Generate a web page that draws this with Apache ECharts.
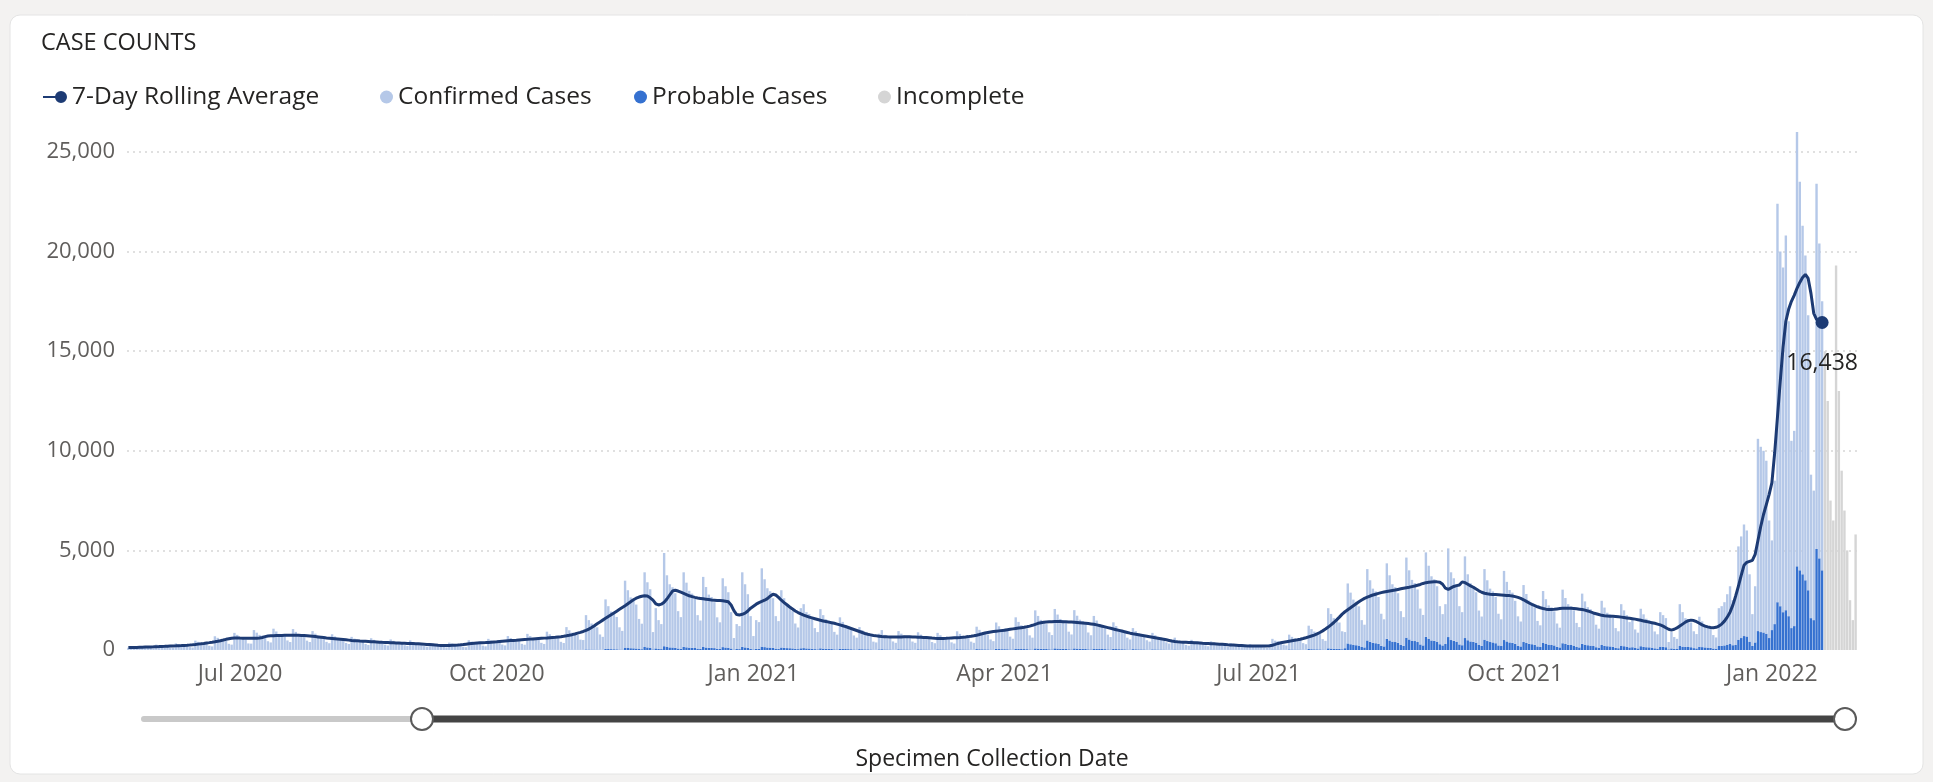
<!DOCTYPE html>
<html>
<head>
<meta charset="utf-8">
<title>Case Counts</title>
<script src="https://cdn.jsdelivr.net/npm/echarts@6/dist/echarts.min.js"></script>
<style>
  html, body { margin: 0; padding: 0; background: #f3f2f1; }
  #chart { width: 1933px; height: 782px; }
</style>
</head>
<body>
<div id="chart"></div>
<script>
// Daily series run from the first to the last specimen collection date.
const FIRST_DAY = '2020-05-22';
const LAST_DAY = '2022-01-31';

// Quarter labels shown along the date axis.
const tickLabels = ['Jul 2020', 'Oct 2020', 'Jan 2021', 'Apr 2021', 'Jul 2021', 'Oct 2021', 'Jan 2022'];

// 7-day rolling average of all cases (one value per complete day).
const avg2020 = [
  /* May */ 120,125,128,130,135,140,145,150,155,160,
  /* Jun */ 168,172,178,183,190,196,202,208,215,222,230,238,248,262,278,295,312,330,350,370,392,415,440,468,500,535,565,590,600,605,
  /* Jul */ 600,596,592,590,590,590,592,600,630,670,700,710,716,722,728,732,736,740,742,742,740,736,730,722,712,700,688,672,656,640,624,
  /* Aug */ 608,594,580,566,552,538,524,510,496,482,470,460,450,442,434,426,418,410,402,394,386,380,374,368,362,356,350,344,338,332,328,
  /* Sep */ 322,316,308,300,292,282,272,260,248,236,226,222,225,230,236,242,250,262,276,292,308,322,336,348,358,366,372,380,390,400,
  /* Oct */ 410,425,440,452,462,472,482,492,504,516,528,536,546,556,566,576,586,596,606,618,630,642,656,670,690,714,740,770,805,845,885,
  /* Nov */ 930,985,1050,1130,1220,1320,1410,1500,1590,1680,1770,1860,1950,2040,2130,2220,2320,2420,2520,2600,2660,2700,2720,2710,2620,2500,2320,2260,2300,2400,
  /* Dec */ 2560,2760,2960,3000,2960,2900,2840,2780,2720,2680,2640,2610,2590,2570,2550,2530,2510,2500,2490,2480,2470,2450,2420,2260,1980,1780,1760,1790,1850,1960,2100
];
const avg2021 = [
  /* Jan */ 2200,2300,2380,2440,2500,2580,2700,2800,2760,2640,2500,2380,2270,2160,2060,1960,1880,1810,1750,1700,1650,1610,1570,1530,1490,1460,1430,1400,1370,1340,1300,
  /* Feb */ 1260,1220,1180,1130,1080,1030,980,930,880,830,790,760,730,710,695,680,668,660,655,652,650,652,656,660,662,660,655,650,
  /* Mar */ 645,640,632,622,610,598,588,582,580,582,588,596,604,612,620,630,642,656,672,692,716,744,776,812,850,880,906,926,944,960,976,
  /* Apr */ 995,1020,1040,1060,1080,1100,1120,1140,1165,1200,1240,1290,1340,1370,1390,1405,1415,1420,1425,1430,1428,1424,1418,1410,1400,1390,1380,1370,1360,1345,
  /* May */ 1330,1310,1290,1260,1230,1195,1160,1125,1090,1055,1020,985,950,915,880,845,815,790,765,740,715,690,665,640,615,590,565,540,510,480,450,
  /* Jun */ 425,410,400,392,386,380,374,368,360,350,340,332,325,318,310,302,294,286,276,264,254,246,238,230,222,214,206,200,198,200,
  /* Jul */ 200,198,196,200,215,240,280,330,360,385,410,435,460,485,510,540,575,615,660,705,750,810,880,960,1050,1150,1260,1380,1510,1650,1800,
  /* Aug */ 1920,2020,2120,2220,2320,2420,2510,2590,2650,2710,2760,2800,2840,2880,2910,2940,2965,2990,3010,3040,3070,3100,3125,3150,3180,3210,3250,3290,3340,3380,3400,
  /* Sep */ 3410,3420,3420,3400,3300,3100,3040,3120,3190,3230,3260,3420,3380,3300,3220,3150,3060,2970,2900,2850,2820,2800,2790,2780,2770,2760,2750,2740,2730,2710,
  /* Oct */ 2680,2640,2590,2520,2440,2360,2290,2230,2170,2120,2080,2050,2030,2030,2040,2060,2080,2090,2100,2100,2095,2085,2070,2050,2030,2000,1960,1910,1860,1820,1780,
  /* Nov */ 1740,1720,1710,1700,1690,1680,1670,1650,1630,1610,1590,1570,1550,1520,1490,1460,1430,1400,1370,1340,1300,1260,1200,1120,1040,1000,1040,1110,1200,1300,
  /* Dec */ 1400,1470,1500,1480,1420,1340,1260,1200,1160,1130,1120,1140,1200,1300,1450,1650,1900,2250,2700,3200,3750,4250,4400,4450,4500,4800,5500,6200,6800,7300,7800
];
const avg2022 = [
  /* Jan 1-19 */ 8400,9900,11700,13500,15200,16500,17100,17500,17800,18150,18450,18700,18850,18650,17900,16900,16600,16500,16438
];

// Confirmed cases per day.
const confirmed2020 = [
  /* May */ 113,79,70,127,186,168,157,148,99,89,
  /* Jun */ 266,237,208,197,178,119,104,325,281,247,237,213,144,124,464,405,366,346,317,213,178,682,604,535,505,456,307,268,851,753,
  /* Jul */ 643,614,515,327,317,990,861,752,713,644,436,376,1059,921,802,762,693,475,396,1040,901,792,752,683,465,396,941,812,713,673,614,
  /* Aug */ 406,337,782,673,594,564,505,347,297,653,564,495,475,426,297,248,584,505,445,426,381,262,223,525,455,396,381,342,238,198,475,
  /* Sep */ 376,327,312,282,193,163,228,327,267,247,218,148,129,366,317,277,267,238,163,139,485,416,366,346,317,218,183,554,475,416,
  /* Oct */ 435,396,272,228,692,594,524,500,450,307,262,801,692,603,579,524,356,302,908,780,691,657,593,405,346,1134,976,858,819,740,513,
  /* Nov */ 492,1720,1474,1308,1240,1122,768,650,2480,2150,1886,1800,1624,1116,940,3360,2900,2550,2435,2205,1510,1280,3750,3270,2935,870,2020,1445,1255,4680,
  /* Dec */ 3600,3170,3025,2740,1875,1585,3740,3245,2850,2720,2460,1680,1420,3520,3035,2670,2555,2305,1575,1335,3455,3075,2785,1825,575,1250,1155,3745,3170,2690,1635
];
const confirmed2021 = [
  /* Jan */ 670,1440,1345,3930,3405,2975,2830,2495,1630,1390,2875,2495,2205,2060,1870,1275,1085,2015,2205,1820,1725,1535,1055,865,1965,1680,1480,1410,1275,875,740,
  /* Feb */ 1575,1355,1190,1145,1030,700,595,1105,950,835,795,672,403,365,787,960,730,672,605,413,346,912,787,691,662,595,408,346,
  /* Mar */ 854,739,653,619,562,384,326,826,710,624,595,538,370,312,902,778,686,653,595,403,346,1123,970,854,816,739,509,427,1325,1142,1003,
  /* Apr */ 1037,941,643,542,1574,1354,1190,1142,1027,706,595,1910,1642,1450,1382,1248,854,720,1978,1709,1498,1430,1296,883,749,1920,1651,1459,1392,1258,
  /* May */ 845,710,1642,1421,1248,1190,1075,739,624,1334,1152,1018,970,874,595,509,1056,912,806,768,691,470,403,826,710,624,595,538,370,312,403,
  /* Jun */ 595,432,394,355,245,206,490,422,370,355,317,221,182,418,360,317,302,274,187,158,326,283,250,235,216,149,125,278,240,211,
  /* Jul */ 202,182,125,96,269,538,451,422,384,259,221,739,634,557,533,480,331,278,1171,1008,888,845,768,523,442,2016,1738,1536,1459,1325,902,
  /* Aug */ 810,3010,2590,2280,2180,1970,1350,1140,3580,3090,2720,2600,2350,1610,1360,3790,3270,2880,2750,2490,1700,1440,4020,3470,3050,2910,2640,1800,1530,4240,3660,
  /* Sep */ 3220,3090,2780,1910,1570,2000,4450,3400,3140,2880,1920,1660,4100,3310,2920,2790,2530,1730,1470,3540,3050,2680,2560,2320,1590,1340,3470,2990,2630,2520,
  /* Oct */ 2160,1480,1250,2860,2460,2170,2070,1880,1280,1090,2610,2250,1970,1890,1710,1170,990,2690,2310,2040,1940,1770,1210,1020,2520,2170,1910,1830,1650,1130,950,
  /* Nov */ 2220,1920,1680,1610,1460,990,850,2080,1800,1580,1270,1370,930,790,1880,1630,1430,1365,1240,845,720,1730,1595,1460,365,820,595,510,2100,1730,
  /* Dec */ 1440,1370,1240,845,720,1505,1295,1140,1090,980,675,565,1900,1990,2170,2530,2900,2260,2350,4680,5100,5600,5320,3380,1600,2820,9650,9300,9120,8680,5900
];
const confirmed2022 = [
  /* Jan 1-19 */ 4500,7200,20000,17800,17300,18800,14800,9400,9800,21800,19500,17500,16300,13800,7200,6500,18330,15800,13500
];

// Probable cases per day.
const probable2020 = [
  /* May */ 2,1,0,3,4,2,3,2,1,1,
  /* Jun */ 4,3,2,3,2,1,1,5,4,3,3,2,1,1,6,5,4,4,3,2,2,8,6,5,5,4,3,2,9,7,
  /* Jul */ 7,6,5,3,3,10,9,8,7,6,4,4,11,9,8,8,7,5,4,10,9,8,8,7,5,4,9,8,7,7,6,
  /* Aug */ 4,3,8,7,6,6,5,3,3,7,6,5,5,4,3,2,6,5,5,4,4,3,2,5,5,4,4,3,2,2,5,
  /* Sep */ 4,3,3,3,2,2,2,3,3,3,2,2,1,4,3,3,3,2,2,1,5,4,4,4,3,2,2,6,5,4,
  /* Oct */ 5,4,3,2,8,6,6,5,5,3,3,9,8,7,6,6,4,3,12,10,9,8,7,5,4,16,14,12,11,10,7,
  /* Nov */ 8,30,26,22,20,18,12,10,60,50,44,40,36,24,20,120,100,90,85,75,50,40,150,130,115,30,80,55,45,190,
  /* Dec */ 150,130,125,110,75,65,160,135,120,110,100,70,60,150,125,110,105,95,65,55,145,125,115,75,25,50,45,155,130,110,65
];
const probable2021 = [
  /* Jan */ 30,60,55,170,145,125,120,105,70,60,125,105,95,90,80,55,45,85,95,80,75,65,45,35,85,70,60,60,55,35,30,
  /* Feb */ 65,55,50,45,40,30,25,45,40,35,35,28,17,15,33,40,30,28,25,17,14,38,33,29,28,25,17,14,
  /* Mar */ 36,31,27,26,23,16,14,34,30,26,25,22,15,13,38,32,29,27,25,17,14,47,40,36,34,31,21,18,55,48,42,
  /* Apr */ 43,39,27,23,66,56,50,48,43,29,25,80,68,60,58,52,36,30,82,71,62,60,54,37,31,80,69,61,58,52,
  /* May */ 35,30,68,59,52,50,45,31,26,56,48,42,40,36,25,21,44,38,34,32,29,20,17,34,30,26,25,22,15,13,17,
  /* Jun */ 25,18,16,15,10,9,20,18,15,15,13,9,8,17,15,13,13,11,8,7,14,12,10,10,9,6,5,12,10,9,
  /* Jul */ 8,8,5,4,11,22,19,18,16,11,9,31,26,23,22,20,14,12,49,42,37,35,32,22,18,84,72,64,61,55,38,
  /* Aug */ 90,330,290,250,240,220,150,130,480,410,360,340,310,210,180,560,480,420,400,360,250,210,620,530,470,450,400,280,230,660,570,
  /* Sep */ 480,460,420,290,230,300,650,500,460,420,280,240,600,490,430,410,370,250,210,520,450,400,380,340,230,200,500,430,380,360,
  /* Oct */ 310,210,180,400,350,310,290,260,180,150,350,300,270,250,230,160,130,340,300,260,250,220,150,130,310,270,240,220,200,140,120,
  /* Nov */ 250,210,190,180,160,110,90,220,190,170,130,140,100,80,190,160,140,135,120,85,70,170,155,140,35,80,55,50,200,170,
  /* Dec */ 160,150,140,95,80,165,145,130,120,110,75,65,200,210,230,270,300,240,250,520,600,700,680,420,200,380,950,900,880,820,600
];
const probable2022 = [
  /* Jan 1-19 */ 1000,1300,2400,2200,1900,2000,1700,1100,1200,4200,4000,3800,3500,3000,1600,1500,5070,4600,4000
];

// Days whose counts are still being reported (Jan 20-31, 2022).
const incomplete2022 = [15000,12500,7500,6500,19300,13000,9000,7000,5000,2500,1500,5800];

// ---- build the daily category axis ----
const MONTHS = ['Jan','Feb','Mar','Apr','May','Jun','Jul','Aug','Sep','Oct','Nov','Dec'];
const categories = [];
for (let t = Date.parse(FIRST_DAY + 'T00:00:00Z'); t <= Date.parse(LAST_DAY + 'T00:00:00Z'); t += 86400000) {
  categories.push(new Date(t).toISOString().slice(0, 10));
}
function monthLabel(iso) {
  return MONTHS[+iso.slice(5, 7) - 1] + ' ' + iso.slice(0, 4);
}
function isQuarterTick(iso) {
  return iso.slice(8) === '01' && tickLabels.indexOf(monthLabel(iso)) !== -1;
}

const FONT = '"Segoe UI", "Open Sans", "Noto Sans", sans-serif';
const TEXT_DARK = '#252423';
const TEXT_GREY = '#605e5c';

const rollingAvg = avg2020.concat(avg2021, avg2022);
const confirmed = confirmed2020.concat(confirmed2021, confirmed2022);
const probable = probable2020.concat(probable2021, probable2022);
const completeDays = confirmed.length;
const incomplete = new Array(completeDays).fill(null).concat(incomplete2022);

// Only the latest complete day carries a marker and its value.
const lastIdx = rollingAvg.length - 1;
const lineData = rollingAvg.map(function (v, i) {
  if (i !== lastIdx) return v;
  return {
    value: v,
    symbol: 'circle',
    symbolSize: 13,
    label: {
      show: true,
      position: 'bottom',
      distance: 23,
      color: TEXT_DARK,
      fontSize: 23,
      fontFamily: FONT,
      formatter: function (p) { return p.value.toLocaleString('en-US'); }
    }
  };
});

const COLORS = {
  line: '#1d3b74',
  confirmed: '#b5c8e8',
  probable: '#3571d0',
  incomplete: '#d5d5d5'
};

const legendBase = {
  top: 83,
  padding: 0,
  itemHeight: 13,
  itemWidth: 13,
  icon: 'circle',
  textStyle: { fontSize: 24.5, color: TEXT_DARK, fontFamily: FONT, lineHeight: 28 },
  selectedMode: false
};

const chart = echarts.init(document.getElementById('chart'), null, { renderer: 'canvas' });

chart.setOption({
  backgroundColor: '#f3f2f1',
  animation: false,
  textStyle: { fontFamily: FONT },
  title: {
    text: 'CASE COUNTS',
    left: 41,
    top: 29,
    padding: 0,
    textStyle: { fontSize: 23.5, fontWeight: 'normal', color: TEXT_DARK, fontFamily: FONT, lineHeight: 28 }
  },
  legend: [
    Object.assign({}, legendBase, {
      left: 43,
      data: ['7-Day Rolling Average'],
      itemWidth: 24,
      itemHeight: 12,
      icon: 'path://M0 5h14v2H0z M18 0a6 6 0 1 1 0 12a6 6 0 1 1 0-12z'
    }),
    Object.assign({}, legendBase, { left: 380, data: ['Confirmed Cases'] }),
    Object.assign({}, legendBase, { left: 634, data: ['Probable Cases'] }),
    Object.assign({}, legendBase, { left: 878, data: ['Incomplete'] })
  ],
  grid: { left: 127, right: 76, top: 132, bottom: 132, containLabel: false },
  xAxis: {
    type: 'category',
    data: categories,
    boundaryGap: true,
    axisLine: { show: false },
    axisTick: { show: false },
    axisLabel: {
      interval: function (index, value) { return isQuarterTick(value); },
      formatter: function (value) { return monthLabel(value); },
      color: TEXT_GREY,
      fontSize: 23,
      margin: 13,
      fontFamily: FONT
    },
    name: 'Specimen Collection Date',
    nameLocation: 'middle',
    nameGap: 98,
    nameTextStyle: { fontSize: 23, color: TEXT_DARK, fontFamily: FONT }
  },
  yAxis: {
    type: 'value',
    min: 0,
    max: 26000,
    interval: 5000,
    axisLine: { show: false },
    axisTick: { show: false },
    axisLabel: {
      color: TEXT_GREY,
      fontSize: 22,
      margin: 12,
      fontFamily: FONT,
      showMaxLabel: false,
      formatter: function (v) { return v.toLocaleString('en-US'); }
    },
    splitLine: {
      show: true,
      showMinLine: false,
      showMaxLine: false,
      lineStyle: { color: '#d6d6d6', width: 1.5, type: [2, 4] }
    }
  },
  series: [
    {
      name: 'Probable Cases',
      type: 'bar',
      stack: 'cases',
      data: probable,
      barCategoryGap: '14%',
      itemStyle: { color: COLORS.probable },
      z: 2
    },
    {
      name: 'Confirmed Cases',
      type: 'bar',
      stack: 'cases',
      data: confirmed,
      itemStyle: { color: COLORS.confirmed },
      z: 2
    },
    {
      name: 'Incomplete',
      type: 'bar',
      stack: 'cases',
      data: incomplete,
      itemStyle: { color: COLORS.incomplete },
      z: 2
    },
    {
      name: '7-Day Rolling Average',
      type: 'line',
      data: lineData,
      symbol: 'none',
      showSymbol: true,
      showAllSymbol: true,
      color: COLORS.line,
      itemStyle: { color: COLORS.line },
      lineStyle: { color: COLORS.line, width: 3 },
      z: 5
    }
  ],
  graphic: [
    {
      type: 'rect',
      z: -10,
      silent: true,
      shape: { x: 10, y: 15, width: 1913, height: 759, r: 10 },
      style: { fill: '#ffffff', stroke: '#e4e4e4', lineWidth: 1 }
    },
    // date range slider under the chart
    {
      type: 'line',
      silent: true,
      shape: { x1: 144, y1: 719, x2: 422, y2: 719 },
      style: { stroke: '#c9c9c9', lineWidth: 6, lineCap: 'round' }
    },
    {
      type: 'line',
      silent: true,
      shape: { x1: 422, y1: 719, x2: 1845, y2: 719 },
      style: { stroke: '#444444', lineWidth: 7 }
    },
    {
      type: 'circle',
      silent: true,
      shape: { cx: 422, cy: 719, r: 11 },
      style: { fill: '#ffffff', stroke: '#5a5a5a', lineWidth: 2 }
    },
    {
      type: 'circle',
      silent: true,
      shape: { cx: 1845, cy: 719, r: 11 },
      style: { fill: '#ffffff', stroke: '#5a5a5a', lineWidth: 2 }
    }
  ]
});
</script>
</body>
</html>
